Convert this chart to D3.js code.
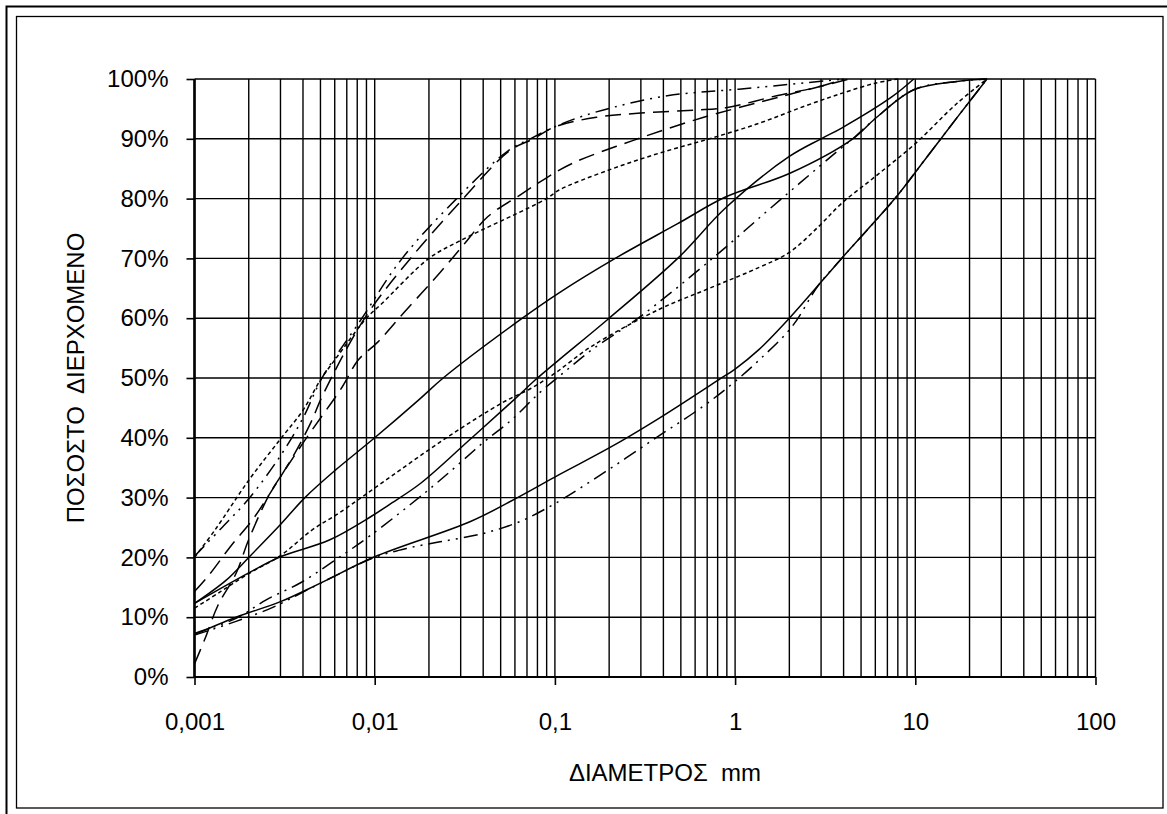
<!DOCTYPE html>
<html>
<head>
<meta charset="utf-8">
<script src="https://cdn.jsdelivr.net/npm/d3@7"></script>
<style>
  html, body { margin: 0; padding: 0; background: #fff; }
  svg { display: block; }
  text { font-family: "Liberation Sans", Arial, sans-serif; fill: #000; }
</style>
</head>
<body>
<svg id="chart" width="1167" height="814"></svg>
<script>
// Axis ticks and labels
const xTicks = [0.001, 0.01, 0.1, 1, 10, 100];
const xTickLabels = ["0,001", "0,01", "0,1", "1", "10", "100"];
const yTicks = [0, 10, 20, 30, 40, 50, 60, 70, 80, 90, 100];
const yTickLabels = ["0%", "10%", "20%", "30%", "40%", "50%", "60%", "70%", "80%", "90%", "100%"];
const xTitle = "ΔΙΑΜΕΤΡΟΣ  mm";
const yTitle = "ΠΟΣΟΣΤΟ  ΔΙΕΡΧΟΜΕΝΟ";

// Grading curves: [diameter mm, percent passing]
const solidLower = [[0.001,7.1],[0.0017,10],[0.003,12.6],[0.005,15.7],[0.01,20.1],[0.034,26],[0.062,30],[0.105,33.8],[0.2,38.3],[0.38,43.3],[0.81,49.7],[1.0,51.5],[1.35,54.7],[2.0,60],[3.9,70],[7.7,80],[11.3,86.5],[17,93.5],[25,100]];
const dashDotLower = [[0.001,7],[0.0017,9.3],[0.0027,11.6],[0.004,14.2],[0.0065,17.4],[0.01,20],[0.015,21.5],[0.023,22.6],[0.04,24],[0.064,26],[0.1,29],[0.19,34.3],[0.36,39.9],[0.66,45.2],[0.97,49.1],[1.36,53],[2.07,58.6],[2.9,65.5],[3.9,70],[7.7,80],[11.3,86.5],[17,93.5],[25,100]];
const dashDotMiddle = [[0.001,7.3],[0.0017,9.8],[0.0025,12.9],[0.0039,15.8],[0.0058,19.2],[0.0095,23.7],[0.019,30.8],[0.028,35.1],[0.04,39.2],[0.058,43.1],[0.082,47.5],[0.115,51.2],[0.16,54.7],[0.29,60],[0.77,70.3],[1.6,78.6],[3.9,88.5],[4.5,90],[6,93.4],[9.8,98.2],[17,99.6],[25,100]];
const solidMiddle = [[0.001,12.3],[0.002,17.4],[0.003,20.1],[0.0056,22.9],[0.0095,26.8],[0.012,28.8],[0.018,32.4],[0.034,39.8],[0.059,46.3],[0.078,49.7],[0.105,53],[0.2,60],[0.48,70],[0.89,78.5],[1.99,87],[3.0,90],[3.9,91.8],[7.4,97],[9.8,100]];
const solidUpper = [[0.001,12.3],[0.0015,16.2],[0.002,20],[0.003,25.5],[0.0041,30],[0.006,34.5],[0.01,40],[0.0175,46.3],[0.024,50],[0.066,60],[0.105,64.2],[0.216,70],[0.48,75.8],[0.89,80.3],[2.0,84.2],[4.5,90],[6,93.4],[9.8,98.2],[17,99.6],[25,100]];
const shortDashMiddle = [[0.001,11.5],[0.0014,14.3],[0.002,17.3],[0.003,20.3],[0.0045,24.6],[0.0064,27.5],[0.012,33.3],[0.025,40],[0.052,46],[0.073,48.2],[0.1,50.8],[0.16,55.3],[0.38,61.5],[0.72,65],[1.36,68.5],[2,71],[2.9,75.3],[3.9,79.2],[6,83.7],[10,89.2],[17,95.9],[25,100]];
const dashDotUpper = [[0.001,20.2],[0.0014,24.8],[0.002,29.8],[0.003,37],[0.004,43.3],[0.0051,50],[0.0085,60],[0.0142,70],[0.0285,80],[0.055,88],[0.073,90],[0.105,92.3],[0.17,94.5],[0.42,97.2],[1.05,98.3],[3.2,99.7],[4,100]];
const shortDashUpper = [[0.001,20],[0.0013,24.6],[0.002,32.9],[0.003,39.8],[0.004,44.6],[0.005,49.7],[0.006,53],[0.009,60],[0.011,62.5],[0.02,70],[0.03,73],[0.09,80],[0.105,81.4],[0.2,84.8],[0.38,87.6],[0.72,90],[1.36,92.6],[2.4,95.4],[3.9,97.6],[6,99.3],[8,100]];
const longDashUpper = [[0.001,14.3],[0.0012,17],[0.0016,22],[0.0021,26.3],[0.0027,31.3],[0.0036,37.4],[0.0044,42.4],[0.0052,47.4],[0.0088,60],[0.0158,70],[0.031,80],[0.056,88],[0.076,90],[0.1,92],[0.17,93.6],[0.3,94.3],[0.6,94.8],[0.89,95.2],[1.7,97.2],[2.9,98.7],[4,100]];
const longDashLower = [[0.001,2.2],[0.00114,6.3],[0.00135,12],[0.0017,17.3],[0.002,23],[0.0026,30.5],[0.003,33.5],[0.0041,39.6],[0.0066,48.5],[0.0081,53],[0.0104,56],[0.0145,60.9],[0.023,67.6],[0.031,72.2],[0.0425,77],[0.064,80.6],[0.089,83.4],[0.125,85.9],[0.27,89.7],[0.67,93.6],[1.4,96.2],[2.3,97.9],[4.3,100]];

// Line styles per curve
const SOLID = null, SHORT = "4,3", LONG = "16,8", DASHDOT2 = "14,6,2,6,2,6";
const curves = [
  { data: solidLower, dash: SOLID },
  { data: dashDotLower, dash: DASHDOT2 },
  { data: dashDotMiddle, dash: DASHDOT2 },
  { data: solidMiddle, dash: SOLID },
  { data: solidUpper, dash: SOLID },
  { data: shortDashMiddle, dash: SHORT },
  { data: dashDotUpper, dash: DASHDOT2 },
  { data: shortDashUpper, dash: SHORT },
  { data: longDashUpper, dash: LONG },
  { data: longDashLower, dash: LONG }
];

const svg = d3.select("#chart");
const plotLeft = 194.5, plotRight = 1095.5, plotTop = 79, plotBottom = 677;
const x = d3.scaleLog().domain([0.001, 100]).range([plotLeft, plotRight]);
const y = d3.scaleLinear().domain([0, 100]).range([plotBottom, plotTop]);

// page frame
svg.append("path").attr("d", "M6.5,814 V6.5 H1167")
  .attr("fill", "none").attr("stroke", "#000").attr("stroke-width", 2);
svg.append("rect").attr("x", 16.5).attr("y", 16.5).attr("width", 1146.5).attr("height", 791.5)
  .attr("fill", "none").attr("stroke", "#000").attr("stroke-width", 1.3);

// vertical grid at every 1..9 x decade
const grid = svg.append("g");
grid.selectAll("line.vg").data(x.ticks()).join("line").attr("class", "vg")
  .attr("x1", d => x(d)).attr("x2", d => x(d))
  .attr("y1", plotTop).attr("y2", plotBottom)
  .attr("stroke", "#000").attr("stroke-width", 1.4);

// horizontal grid
grid.selectAll("line.hg").data(yTicks.filter(v => v > 0)).join("line").attr("class", "hg")
  .attr("x1", plotLeft).attr("x2", plotRight)
  .attr("y1", d => y(d)).attr("y2", d => y(d))
  .attr("stroke", "#000").attr("stroke-width", 1.4);

// axes
const yAxis = d3.axisLeft(y).tickValues(yTicks).tickFormat((d, i) => yTickLabels[i]).tickSize(8).tickPadding(18);
const yg = svg.append("g").attr("transform", `translate(${plotLeft},0)`).call(yAxis);
const xAxis = d3.axisBottom(x).tickValues(xTicks).tickFormat((d, i) => xTickLabels[i]).tickSize(8).tickPadding(28);
const xg = svg.append("g").attr("transform", `translate(0,${plotBottom})`).call(xAxis);
[yg, xg].forEach(a => {
  a.select(".domain").remove();
  a.selectAll(".tick line").attr("stroke", "#000").attr("stroke-width", 1.6);
  a.selectAll(".tick text").attr("font-size", 24).attr("font-family", "Liberation Sans, Arial, sans-serif").attr("fill", "#000");
});
svg.append("line").attr("x1", plotLeft).attr("x2", plotLeft).attr("y1", plotTop).attr("y2", plotBottom)
  .attr("stroke", "#000").attr("stroke-width", 2.6);
svg.append("line").attr("x1", plotLeft).attr("x2", plotRight).attr("y1", plotBottom).attr("y2", plotBottom)
  .attr("stroke", "#000").attr("stroke-width", 2);

// curves, smoothed through the measured points
const line = d3.line().x(d => x(d[0])).y(d => Math.max(y(100), y(d[1])))
  .curve(d3.curveCatmullRom.alpha(0.5));
svg.append("g").selectAll("path").data(curves).join("path")
  .attr("d", c => line(c.data))
  .attr("fill", "none").attr("stroke", "#000").attr("stroke-width", 1.5)
  .attr("stroke-dasharray", c => c.dash);

// titles
svg.append("text").attr("x", (plotLeft + plotRight) / 2 + 20).attr("y", 781)
  .attr("text-anchor", "middle").attr("font-size", 24).style("white-space", "pre").text(xTitle);
svg.append("text").attr("transform", `translate(84,378) rotate(-90)`)
  .attr("text-anchor", "middle").attr("font-size", 24).style("white-space", "pre").text(yTitle);
</script>
</body>
</html>
